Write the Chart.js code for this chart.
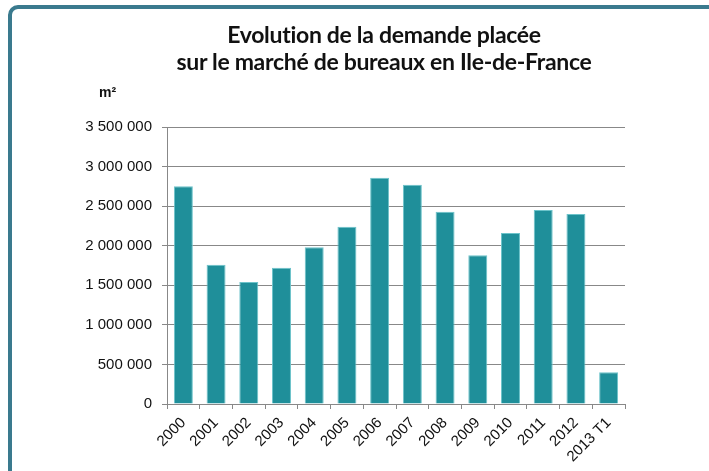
<!DOCTYPE html>
<html>
<head>
<meta charset="utf-8">
<script src="https://cdn.jsdelivr.net/npm/chart.js@4/dist/chart.umd.min.js"></script>
<style>
  body { margin: 0; background: #fff; overflow: hidden; }
  #frame {
    position: absolute; left: 8px; top: 5px; width: 720px; height: 480px;
    border: 4px solid #3a7a8e; border-radius: 10px; box-sizing: border-box;
  }
  #wrap { position: absolute; left: 0; top: 0; width: 709px; height: 471px; }
  #title {
    position: absolute; left: 84px; width: 600px; top: 21px; text-align: center;
    font: bold 23px/27px Lato, sans-serif; color: #111; letter-spacing: -0.3px;
  }
  #unit {
    position: absolute; left: 99px; top: 84px;
    font: bold 14px "Liberation Sans", Arial, sans-serif; color: #111;
  }
</style>
</head>
<body>
<div id="frame"></div>
<div id="wrap"><canvas id="chart" width="709" height="471"></canvas></div>
<div id="title"></div>
<div id="unit">m²</div>
<script>
// Demande placée de bureaux en Ile-de-France (m²)
const years = ['2000', '2001', '2002', '2003', '2004', '2005', '2006', '2007',
  '2008', '2009', '2010', '2011', '2012', '2013 T1'];
const demande = [2750000, 1760000, 1540000, 1720000, 1980000, 2240000, 2860000,
  2770000, 2430000, 1880000, 2160000, 2450000, 2400000, 400000];
const titleLines = ['Evolution de la demande placée', 'sur le marché de bureaux en Ile-de-France'];

document.getElementById('title').innerHTML = titleLines.join('<br>');

const fmt = v => String(v).replace(/\B(?=(\d{3})+(?!\d))/g, ' ');

new Chart(document.getElementById('chart'), {
  type: 'bar',
  data: {
    labels: years,
    datasets: [{
      data: demande,
      backgroundColor: '#1f8f9a',
      borderColor: '#6cc3ca',
      borderWidth: 1,
      barPercentage: 0.58,
      categoryPercentage: 1
    }]
  },
  options: {
    responsive: false,
    animation: false,
    layout: { padding: { left: 60, right: 84, top: 127, bottom: 0 } },
    plugins: {
      legend: { display: false },
      tooltip: { enabled: false },
      title: { display: false }
    },
    scales: {
      x: {
        grid: { drawOnChartArea: false, drawTicks: true, tickLength: 5, color: '#888' },
        border: { color: '#888' },
        ticks: {
          color: '#111',
          font: { family: 'Liberation Sans', size: 15 },
          maxRotation: 45, minRotation: 45, padding: 5
        },
        afterFit: s => { s.height = 67; }
      },
      y: {
        min: 0, max: 3500000,
        grid: { color: '#888', tickLength: 5 },
        border: { color: '#888' },
        ticks: {
          stepSize: 500000,
          color: '#111',
          font: { family: 'Liberation Sans', size: 15 },
          padding: 10,
          callback: v => fmt(v)
        },
        afterFit: s => { s.width = 107; }
      }
    }
  }
});
</script>
</body>
</html>
